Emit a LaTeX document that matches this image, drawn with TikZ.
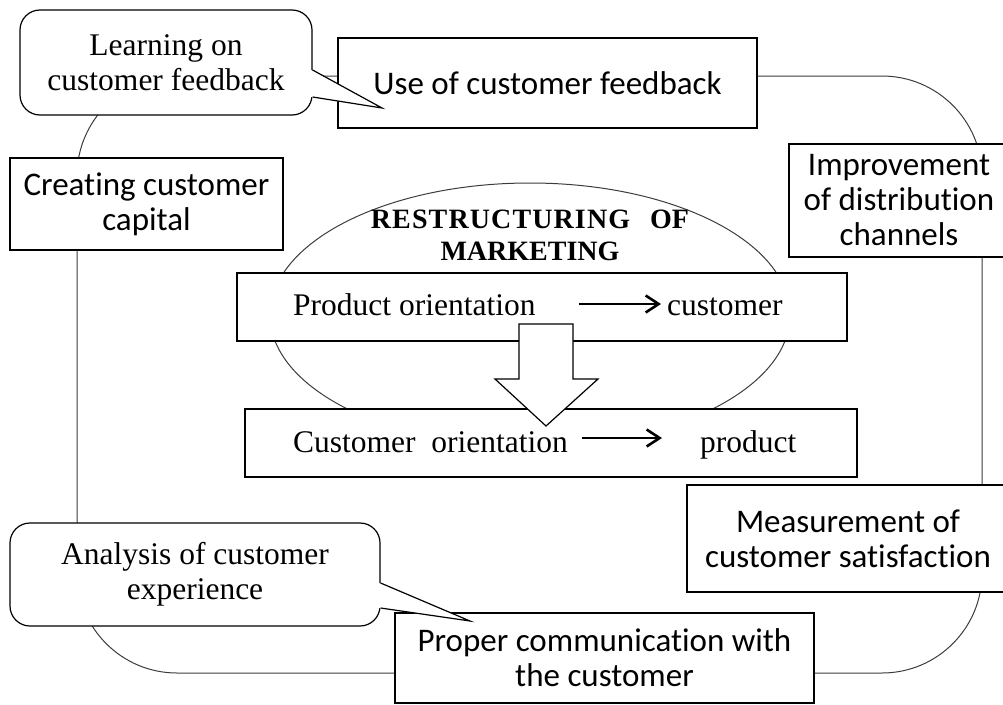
\documentclass[tikz,border=0pt]{standalone}
\usepackage{fontspec}
\setmainfont{Liberation Serif}
\newfontfamily\calibrifont[Ligatures=CommonOff]{Carlito}
\definecolor{edgegray}{RGB}{60, 60, 60}
\usetikzlibrary{arrows.meta, calc}

\tikzset{
  box/.style={draw=black, fill=white, line width=1.2pt, inner sep=0pt, align=center,
    font=\calibrifont\fontsize{33}{35}\selectfont},
  bubble/.style={draw=black, fill=white, line width=1.2pt, inner sep=0pt, align=center,
    rounded corners=20pt, font=\fontsize{31.5}{35}\selectfont},
  orbox/.style={draw=black, fill=white, line width=1.2pt, minimum height=68pt},
  ortext/.style={inner sep=0pt, font=\fontsize{31.5}{35}\selectfont},
  flowarrow/.style={line width=2.8pt, -{Straight Barb[length=13pt, width=17pt, line width=2.6pt]}},
  loopline/.style={draw=edgegray, line width=1pt},
}

\begin{document}
\begin{tikzpicture}[x=1pt, y=-1pt]
  \useasboundingbox (0,0) rectangle (1003,704);

  % Outer cycle
  \draw[loopline, rounded corners=100pt] (77,76) rectangle (982,673);

  % Restructuring ellipse
  \draw[loopline] (530,315) ellipse [x radius=260, y radius=132];

  % Boxes on the cycle
  \node[box, minimum width=419pt, minimum height=90pt] (use) at (547.5,83) {Use of customer feedback};
  \node[box, minimum width=273pt, minimum height=92pt] (crea) at (146.5,204) {Creating customer\\capital};
  \node[box, minimum width=220pt, minimum height=113pt] (impr) at (899,200.5) {Improvement\\of distribution\\channels};
  \node[box, minimum width=322pt, minimum height=107pt] (meas) at (848,538.5) {Measurement of\\customer satisfaction};
  \node[box, minimum width=419pt, minimum height=90pt] (comm) at (604.5,658) {Proper communication with\\the customer};

  % Orientation boxes
  \node[orbox, minimum width=610pt] (prod) at (542,307) {};
  \node[orbox, minimum width=612pt] (cust) at (551,443) {};
  \node[ortext, anchor=base west] (prodfrom) at (293,315) {Product orientation};
  \node[ortext, anchor=base west] (prodto) at (667,315) {customer};
  \draw[flowarrow] ([xshift=43pt, yshift=11pt]prodfrom.base east) -- ([xshift=-6pt, yshift=11pt]prodto.base west);
  \node[ortext, anchor=base west] (custfrom) at (293,452) {Customer\ \ orientation};
  \node[ortext, anchor=base west] (custto) at (700,452) {product};
  \draw[flowarrow] ([xshift=14pt, yshift=14pt]custfrom.base east) -- ([xshift=-38pt, yshift=14pt]custto.base west);

  % Shift arrow
  \draw[line width=1.2pt, fill=white] (519,324) -- (573,324) -- (573,379) -- (598,379)
    -- (546,426) -- (495,379) -- (519,379) -- cycle;

  % Heading
  \node[font=\bfseries\fontsize{28}{32}\selectfont, align=center, inner sep=0pt] (head) at (530,235)
    {{\addfontfeature{LetterSpace=4}RESTRUCTURING}\hspace{20pt}OF\\MARKETING};

  % Callouts
  \node[bubble, minimum width=292pt, minimum height=105pt] (learn) at (166,62.5) {Learning on\\customer feedback};
  \coordinate (learntip) at (382,108);
  \fill[white] ([xshift=-1.5pt, yshift=-7.5pt]learn.east) -- (learntip) -- ([xshift=-1.5pt, yshift=-34.5pt]learn.east) -- cycle;
  \draw[line width=1.2pt] ([yshift=-7.5pt]learn.east) -- (learntip) -- ([yshift=-34.5pt]learn.east);

  \node[bubble, minimum width=370pt, minimum height=103pt] (anal) at (195,574.5) {Analysis of customer\\experience};
  \coordinate (analtip) at (470,621);
  \fill[white] ([xshift=-1.5pt, yshift=-8.5pt]anal.east) -- (analtip) -- ([xshift=-1.5pt, yshift=-33.5pt]anal.east) -- cycle;
  \draw[line width=1.2pt] ([yshift=-8.5pt]anal.east) -- (analtip) -- ([yshift=-33.5pt]anal.east);
\end{tikzpicture}
\end{document}
